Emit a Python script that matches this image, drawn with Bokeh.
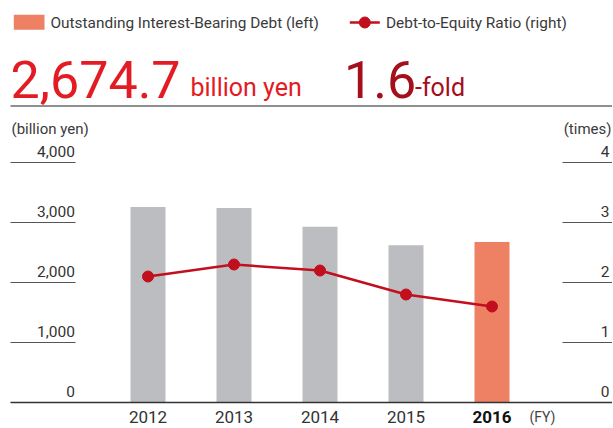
from bokeh.plotting import figure
from bokeh.models import Label, Range1d, ColumnDataSource
from bokeh.core.properties import value
from bokeh.embed import file_html
from bokeh.resources import INLINE

# ---- data ----
years = ["2012", "2013", "2014", "2015", "2016"]
debt = [3260, 3240, 2930, 2620, 2674.7]          # billion yen (left axis)
ratio = [2.1, 2.3, 2.2, 1.8, 1.6]                # times (right axis)
left_ticks = [0, 1000, 2000, 3000, 4000]
left_tick_labels = ["0", "1,000", "2,000", "3,000", "4,000"]
right_ticks = [0, 1, 2, 3, 4]
right_tick_labels = ["0", "1", "2", "3", "4"]
bar_colors = ["#bcbdc0", "#bcbdc0", "#bcbdc0", "#bcbdc0", "#ee8064"]
year_styles = ["normal", "normal", "normal", "normal", "bold"]
year_colors = ["#333333", "#333333", "#333333", "#333333", "#111111"]

FONT = "Roboto"
W, H = 612, 427
LINE_RED = "#c20f1e"
MID = 0.33   # distance (em) from alphabetic baseline to text middle

# page pixel -> data helpers
PX0, PX_STEP = 147.5, 86.0      # centre of first category, category spacing
PY0, PY_PER = 402.0, 0.06       # zero baseline (px), px per billion yen


def X(px):
    return (px - PX0) / PX_STEP


def Y(py):
    return (PY0 - py) / PY_PER


idx = list(range(len(years)))

p = figure(width=W, height=H, output_backend="svg", toolbar_location=None,
           x_range=Range1d(X(0), X(W)), y_range=Range1d(Y(H), Y(0)),
           x_axis_location=None, y_axis_location=None, min_border=0)
p.extra_y_ranges = {"ratio": Range1d(Y(H) / 1000.0, Y(0) / 1000.0)}
p.grid.visible = False
p.outline_line_color = None
p.background_fill_color = "white"
p.border_fill_color = "white"

src = ColumnDataSource(dict(x=idx, debt=debt, ratio=ratio, color=bar_colors,
                            year=years, style=year_styles, ycol=year_colors))

# ---- gridline segments & tick labels ----
p.segment(x0=X(10), x1=X(75), y0=left_ticks[1:], y1=left_ticks[1:],
          line_color="#555555", line_width=1)
p.segment(x0=X(562), x1=X(W), y0=right_ticks[1:], y1=right_ticks[1:],
          line_color="#555555", line_width=1, y_range_name="ratio")
TICK_SIZE = 15.5
p.text(x=X(74.5), y=left_ticks, text=left_tick_labels, text_align="right",
       text_baseline="middle", y_offset=-(5.6 + MID * TICK_SIZE),
       text_font=value(FONT), text_font_size=f"{TICK_SIZE}px", text_color="#333333")
p.text(x=X(609), y=right_ticks, text=right_tick_labels, text_align="right",
       text_baseline="middle", y_offset=-(5.6 + MID * TICK_SIZE),
       text_font=value(FONT), text_font_size=f"{TICK_SIZE}px", text_color="#333333",
       y_range_name="ratio")

# ---- bars ----
p.vbar(x="x", top="debt", bottom=0, width=35 / PX_STEP, fill_color="color",
       line_color=None, source=src)

# zero baseline
p.segment(x0=X(10), x1=X(W), y0=0, y1=0, line_color="#333333", line_width=1.5)

# ---- ratio line ----
p.line(x="x", y="ratio", line_color=LINE_RED, line_width=2.5,
       y_range_name="ratio", source=src)
p.scatter(x="x", y="ratio", size=11, fill_color=LINE_RED, line_color=LINE_RED,
          y_range_name="ratio", source=src)

# ---- x labels ----
YEAR_SIZE = 17
p.text(x="x", y=0, text="year", text_align="center", text_baseline="middle",
       y_offset=20.3 - MID * YEAR_SIZE, text_font=value(FONT),
       text_font_size=f"{YEAR_SIZE}px", text_font_style="style",
       text_color="ycol", source=src)


def label(text, px, baseline, size, color, align="left", style="normal"):
    p.add_layout(Label(x=px, y=H - (baseline - MID * size),
                       x_units="screen", y_units="screen",
                       text=text, text_font=FONT, text_font_size=f"{size}px",
                       text_color=color, text_align=align,
                       text_baseline="middle", text_font_style=style))


label("(FY)", 529, 421.5, 14, "#444444")

# ---- legend (drawn by hand) ----
p.quad(left=X(13.3), right=X(44), top=Y(14.3), bottom=Y(29.3),
       fill_color=bar_colors[-1], line_color=None)
p.line(x=[X(349.3), X(379.3)], y=[Y(22), Y(22)], line_color=LINE_RED, line_width=2.5)
p.scatter(x=[X(364.3)], y=[Y(22)], size=11, fill_color=LINE_RED, line_color=LINE_RED)

label("Outstanding Interest-Bearing Debt (left)", 50, 28, 15.4, "#3a3a3a")
label("Debt-to-Equity Ratio (right)", 385.5, 28, 15.4, "#3a3a3a")

# ---- headline figures ----
label("2,674.7", 10, 95.7, 52, "#e31b23")
label("billion yen", 190, 95.7, 25, "#e31b23")
label("1.6", 343.5, 95.7, 52, "#a30f1a")
label("-fold", 414.5, 95.7, 25, "#a30f1a")

# header rule
p.segment(x0=X(10), x1=X(W), y0=Y(105.6), y1=Y(105.6),
          line_color="#8f8f8f", line_width=2)

# axis unit labels
label("(billion yen)", 11, 133.3, 15, "#3a3a3a")
label("(times)", 611, 133.3, 15, "#3a3a3a", align="right")

open("out.html", "w").write(file_html(p, INLINE))
